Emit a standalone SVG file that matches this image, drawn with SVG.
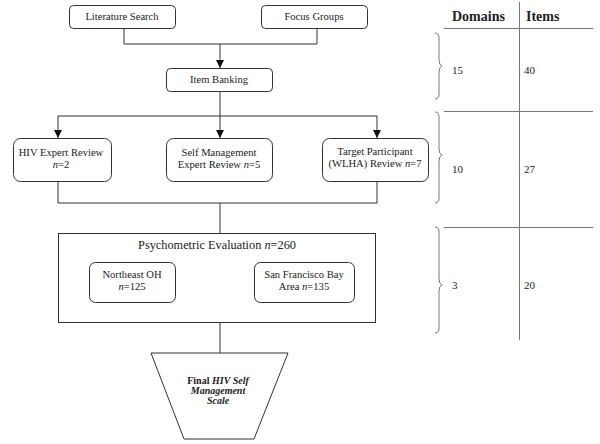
<svg xmlns="http://www.w3.org/2000/svg" width="600" height="444" viewBox="0 0 600 444">
<style>
text{font-family:"Liberation Serif","Times New Roman",serif;fill:#222;}
.b{fill:#fff;stroke:#333;stroke-width:1;}
.t{font-size:10.6px;text-anchor:middle;}
.c{fill:none;stroke:#333;stroke-width:1;}
.g{fill:none;stroke:#777;stroke-width:1;}
.h{font-size:14px;font-weight:bold;}
.v{font-size:11px;}
</style>
<defs>
<marker id="ah" viewBox="0 0 10 10" refX="10" refY="5" markerWidth="8" markerHeight="8" markerUnits="userSpaceOnUse" orient="auto">
<path d="M0,0 L10,5 L0,10 z" fill="#111"/>
</marker>
</defs>
<rect width="600" height="444" fill="#fff"/>
<g id="connectors">
<path class="c" d="M124,28 V44 H317 V28"/>
<path class="c" d="M220,44 V68" marker-end="url(#ah)"/>
<path class="c" d="M220,91 V116"/>
<path class="c" d="M58,116 H377"/>
<path class="c" d="M58,116 V138" marker-end="url(#ah)"/>
<path class="c" d="M220,116 V138" marker-end="url(#ah)"/>
<path class="c" d="M377,116 V138" marker-end="url(#ah)"/>
<path class="c" d="M58,181 V203 H377 V181"/>
<path class="c" d="M220,203 V233"/>
<path class="c" d="M220,322 V353"/>
</g>
<g id="lit"><rect class="b" x="69.5" y="5.5" width="106" height="23" rx="4"/><text class="t" x="122" y="20">Literature Search</text></g>
<g id="focus"><rect class="b" x="261.5" y="5.5" width="106" height="23" rx="4"/><text class="t" x="314" y="20">Focus Groups</text></g>
<g id="itembank"><rect class="b" x="166.5" y="68.5" width="106" height="23" rx="4"/><text class="t" x="219" y="83">Item Banking</text></g>
<g id="hiv"><rect class="b" x="13.5" y="138.5" width="98" height="43" rx="7"/><text class="t" x="61" y="156">HIV Expert Review</text><text class="t" x="61" y="168"><tspan font-style="italic">n</tspan>=2</text></g>
<g id="selfmgmt"><rect class="b" x="166.5" y="138.5" width="106" height="43" rx="7"/><text class="t" x="219" y="156">Self Management</text><text class="t" x="219" y="168">Expert Review <tspan font-style="italic">n</tspan>=5</text></g>
<g id="target"><rect class="b" x="322.5" y="138.5" width="106" height="43" rx="7"/><text class="t" x="375" y="155" font-size="10">Target Participant</text><text class="t" x="375" y="167" font-size="10">(WLHA) Review <tspan font-style="italic">n</tspan>=7</text></g>
<g id="psychometric"><rect class="b" x="58.5" y="233.5" width="317" height="89"/><text x="217" y="249" font-size="12.3" text-anchor="middle">Psychometric Evaluation <tspan font-style="italic">n</tspan>=260</text></g>
<g id="northeast"><rect class="b" x="89.5" y="262.5" width="86" height="40" rx="6"/><text class="t" x="132" y="278" font-size="10">Northeast OH</text><text class="t" x="132" y="290" font-size="10"><tspan font-style="italic">n</tspan>=125</text></g>
<g id="sf"><rect class="b" x="254.5" y="262.5" width="100" height="40" rx="6"/><text class="t" x="304" y="278" font-size="10">San Francisco Bay</text><text class="t" x="304" y="290" font-size="10">Area <tspan font-style="italic">n</tspan>=135</text></g>
<g id="final"><path class="b" d="M151,353 H288 L254,439 H184 Z"/>
<text x="218" y="384" font-size="10" font-weight="bold" text-anchor="middle">Final <tspan font-style="italic">HIV Self</tspan></text>
<text x="218" y="394" font-size="10" font-weight="bold" font-style="italic" text-anchor="middle">Management</text>
<text x="218" y="404" font-size="10" font-weight="bold" font-style="italic" text-anchor="middle">Scale</text></g>
<g id="table">
<path class="g" d="M519.5,2 V340 M444,28.5 H593 M444,111.5 H593 M444,227.5 H593"/>
<path class="g" d="M435,33 Q439,33 439,38 V60 Q439,65 442,66 Q439,67 439,72 V94 Q439,99 435,99"/>
<path class="g" d="M435,112 Q439,112 439,117 V149 Q439,154 442,155 Q439,156 439,161 V198 Q439,203 435,203"/>
<path class="g" d="M435,227 Q439,227 439,232 V279 Q439,284 442,285 Q439,286 439,291 V328 Q439,333 435,333"/>
<text class="h" x="452" y="21">Domains</text><text class="h" x="526" y="21">Items</text>
<text class="v" x="452" y="74">15</text><text class="v" x="524" y="74">40</text>
<text class="v" x="452" y="173">10</text><text class="v" x="524" y="173">27</text>
<text class="v" x="452" y="289">3</text><text class="v" x="524" y="289">20</text>
</g>
</svg>
